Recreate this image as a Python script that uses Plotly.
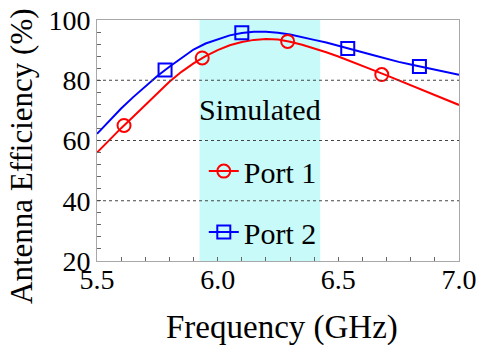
import plotly.graph_objects as go

# ---- data ----
freq = [5.50, 5.55, 5.60, 5.65, 5.70, 5.75, 5.80, 5.85, 5.90, 5.95,
        6.00, 6.05, 6.10, 6.15, 6.20, 6.25, 6.30, 6.35, 6.40, 6.45,
        6.50, 6.55, 6.60, 6.65, 6.70, 6.75, 6.80, 6.85, 6.90, 6.95, 7.00]
port1_eff = [56.0, 60.2, 64.1, 67.9, 71.8, 75.6, 79.5, 82.8, 85.6, 88.0,
             90.0, 91.6, 92.7, 93.4, 93.7, 93.5, 92.8, 91.8, 90.6, 89.3,
             87.9, 86.4, 84.8, 83.2, 81.6, 80.0, 78.4, 76.8, 75.2, 73.5, 71.8]
port2_eff = [62.2, 66.5, 70.6, 74.4, 78.0, 81.4, 84.5, 87.3, 90.2, 92.2,
             93.6, 94.9, 95.7, 96.1, 96.1, 95.8, 95.2, 94.4, 93.4, 92.5,
             91.5, 90.4, 89.3, 88.2, 87.1, 86.1, 85.2, 84.4, 83.5, 82.6, 81.8]

port1_marker_f = [5.612, 5.936, 6.29, 6.68]
port1_marker_eff = [65.0, 87.4, 92.9, 81.9]
port2_marker_f = [5.782, 6.10, 6.539, 6.836]
port2_marker_eff = [83.4, 95.8, 90.5, 84.6]

band_range = [5.925, 6.425]
grid_values = [40, 60, 80]
x_ticks = [5.5, 6.0, 6.5, 7.0]
y_ticks = [20, 40, 60, 80, 100]

legend_title = "Simulated"
names = ["Port 1", "Port 2"]
x_title = "Frequency (GHz)"
y_title = "Antenna Efficiency (%)"

RED = "#ff0000"
BLUE = "#0000ff"
FONT = "Liberation Serif"

fig = go.Figure()

# curves
fig.add_trace(go.Scatter(x=freq, y=port1_eff, mode="lines",
                         line=dict(color=RED, width=2), showlegend=False))
fig.add_trace(go.Scatter(x=freq, y=port2_eff, mode="lines",
                         line=dict(color=BLUE, width=2), showlegend=False))
# markers
fig.add_trace(go.Scatter(x=port1_marker_f, y=port1_marker_eff, mode="markers",
                         marker=dict(symbol="circle-open", size=13, color=RED,
                                     line=dict(width=2, color=RED)),
                         showlegend=False))
fig.add_trace(go.Scatter(x=port2_marker_f, y=port2_marker_eff, mode="markers",
                         marker=dict(symbol="square-open", size=13, color=BLUE,
                                     line=dict(width=2, color=BLUE)),
                         showlegend=False))
# legend entries
fig.add_trace(go.Scatter(x=[None], y=[None], mode="lines+markers", name=names[0],
                         legendgroup="p1",
                         line=dict(color=RED, width=2),
                         marker=dict(symbol="circle-open", size=13, color=RED,
                                     line=dict(width=2, color=RED))))
fig.add_trace(go.Scatter(x=[None], y=[None], mode="lines+markers", name=names[1],
                         legendgroup="p2",
                         line=dict(color=BLUE, width=2),
                         marker=dict(symbol="square-open", size=13, color=BLUE,
                                     line=dict(width=2, color=BLUE))))

# shaded band
fig.add_shape(type="rect", xref="x", yref="paper", x0=band_range[0], x1=band_range[1],
              y0=0, y1=1, fillcolor="#c8fafa", line=dict(width=0), layer="below")
# dashed grid lines
for g in grid_values:
    fig.add_shape(type="line", xref="paper", yref="y", x0=0, x1=1, y0=g, y1=g,
                  line=dict(color="#444444", width=1, dash="3px,3px"), layer="above")

axis_common = dict(showline=True, mirror=True, linecolor="#a8a8a8", linewidth=1,
                   showgrid=False, zeroline=False, ticks="inside", ticklen=4,
                   tickcolor="#666666", automargin=False,
                   tickfont=dict(family=FONT, size=28, color="black"))

fig.update_xaxes(range=[5.5, 7.0], tickvals=x_ticks, tickformat=".1f",
                 ticklabelstandoff=-7,
                 minor=dict(dtick=0.1, ticks="inside", ticklen=4, tickcolor="#666666"),
                 **axis_common)
fig.update_yaxes(range=[20, 100], tickvals=y_ticks,
                 minor=dict(dtick=4, ticks="inside", ticklen=4, tickcolor="#666666"),
                 **axis_common)

fig.add_annotation(text=x_title, xref="paper", yref="paper", x=0.511, y=-0.274,
                   xanchor="center", yanchor="middle", showarrow=False,
                   font=dict(family=FONT, size=33, color="black"))
fig.add_annotation(text=y_title, xref="paper", yref="paper", x=-0.207, y=0.436,
                   xanchor="center", yanchor="middle", showarrow=False, textangle=-90,
                   font=dict(family=FONT, size=31, color="black"))
fig.add_annotation(text=legend_title, xref="paper", yref="paper", x=0.45, y=0.627,
                   xanchor="center", yanchor="middle", showarrow=False,
                   font=dict(family=FONT, size=30, color="black"))

fig.update_layout(
    template="none",
    width=479, height=345,
    margin=dict(l=97, r=20, t=20, b=84),
    paper_bgcolor="white", plot_bgcolor="white",
    font=dict(family=FONT, color="black"),
    legend=dict(x=0.295, y=0.481, xanchor="left", yanchor="top",
                bgcolor="rgba(0,0,0,0)", borderwidth=0,
                font=dict(family=FONT, size=30, color="black"),
                tracegroupgap=19, itemwidth=30),
)

fig.write_html("out.html", config={"displayModeBar": False},
               post_script="document.body.style.margin='0px';")
